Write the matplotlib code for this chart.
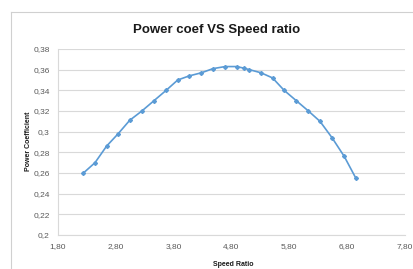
import matplotlib.pyplot as plt
import numpy as np

speed_ratio = [2.24, 2.44, 2.64, 2.84, 3.04, 3.25, 3.46, 3.67, 3.87, 4.07,
               4.28, 4.48, 4.69, 4.89, 5.01, 5.11, 5.31, 5.51, 5.71, 5.92,
               6.13, 6.33, 6.54, 6.75, 6.95]
power_coef = [0.260, 0.270, 0.286, 0.298, 0.311, 0.320, 0.330, 0.340, 0.350, 0.354,
              0.357, 0.361, 0.363, 0.363, 0.3615, 0.360, 0.357, 0.352, 0.340, 0.330,
              0.320, 0.310, 0.294, 0.276, 0.255]
x_ticks = [1.8, 2.8, 3.8, 4.8, 5.8, 6.8, 7.8]
y_ticks = [0.2, 0.22, 0.24, 0.26, 0.28, 0.3, 0.32, 0.34, 0.36, 0.38]

plt.rcParams['font.family'] = ['Liberation Sans', 'DejaVu Sans']

fig = plt.figure(figsize=(4.13, 2.69), dpi=100)
W, H = 413, 269

# chart area border (cropped screenshot of a spreadsheet chart)
fig.add_artist(plt.Line2D([11 / W, 11 / W], [0, 1 - 12 / H], color='#d0d0d0', lw=0.8))
fig.add_artist(plt.Line2D([11 / W, 1], [1 - 12 / H, 1 - 12 / H], color='#d0d0d0', lw=0.8))

ax = fig.add_axes([58 / W, 1 - 235 / H, (405 - 58) / W, (235 - 49) / H])
ax.plot(speed_ratio, power_coef, color='#5b9bd5', lw=1.2, marker='D', ms=2)

ax.set_xlim(1.8, 7.8)
ax.set_ylim(0.2, 0.38)
ax.set_xticks(x_ticks)
ax.set_yticks(y_ticks)
ax.set_xticklabels(['{:.2f}'.format(v).replace('.', ',') for v in x_ticks])
ax.set_yticklabels([('{:g}'.format(v)).replace('.', ',') for v in y_ticks])
ax.tick_params(length=0, labelsize=6, colors='#595959', pad=6)
ax.grid(axis='y', color='#d9d9d9', lw=0.8)
ax.set_axisbelow(True)
for s in ['top', 'right']:
    ax.spines[s].set_visible(False)
for s in ['left', 'bottom']:
    ax.spines[s].set_color('#d9d9d9')
    ax.spines[s].set_linewidth(0.8)

fig.text(217 / W, 1 - 30 / H, 'Power coef VS Speed ratio', ha='center', va='center',
         fontsize=9.5, fontweight='bold', color='#1a1a1a')
fig.text(233 / W, 1 - 265 / H, 'Speed Ratio', ha='center', va='center',
         fontsize=5, fontweight='bold', color='#1a1a1a')
fig.text(28 / W, 1 - 141 / H, 'Power Coefficient', ha='center', va='center',
         fontsize=5, fontweight='bold', color='#1a1a1a', rotation=90)

fig.savefig('out.png', dpi=100)
